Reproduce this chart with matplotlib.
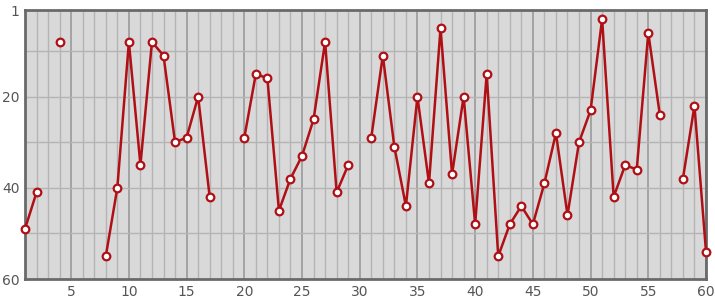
import numpy as np
import matplotlib
matplotlib.use("Agg")
import matplotlib.pyplot as plt
from matplotlib.ticker import MultipleLocator, FixedLocator

x = list(range(1, 61))
values = [49, 41, None, 8, None, None, None, 55, 40, 8,
          35, 8, 11, 30, 29, 20, 42, None, None, 29,
          15, 16, 45, 38, 33, 25, 8, 41, 35, None,
          29, 11, 31, 44, 20, 39, 5, 37, 20, 48,
          15, 55, 48, 44, 48, 39, 28, 46, 30, 23,
          3, 42, 35, 36, 6, 24, None, 38, 22, 54]
x_ticks = [5, 10, 15, 20, 25, 30, 35, 40, 45, 50, 55, 60]
y_ticks = [1, 20, 40, 60]

y = np.array([np.nan if v is None else v for v in values], dtype=float)

fig = plt.figure(figsize=(7.15, 3.0), dpi=100)
ax = fig.add_axes([25/715, 1-279/300, (706-25)/715, (279-10)/300])
ax.set_facecolor("#d9d9d9")
ax.set_xlim(1, 60)
ax.set_ylim(60, 1)

# grid
ax.xaxis.set_minor_locator(MultipleLocator(1))
ax.xaxis.set_major_locator(FixedLocator(x_ticks))
ax.yaxis.set_major_locator(FixedLocator(y_ticks))
ax.yaxis.set_minor_locator(FixedLocator([10, 30, 50]))
ax.grid(which="minor", axis="x", color="#b4b4b4", linewidth=1.0)
ax.grid(which="major", axis="x", color="#9a9a9a", linewidth=1.2)
ax.grid(which="both", axis="y", color="#b4b4b4", linewidth=1.0)
ax.set_axisbelow(True)

ax.plot(x, y, color="#b01015", linewidth=1.8, marker="o", markersize=5.5,
        markerfacecolor="white", markeredgecolor="#b01015", markeredgewidth=1.6,
        zorder=3, clip_on=False)

for s in ax.spines.values():
    s.set_color("#6a6a6a")
    s.set_linewidth(2.0)

ax.tick_params(which="both", length=0, labelsize=10, labelcolor="#555555", pad=4)

fig.savefig("out.png", dpi=100)
